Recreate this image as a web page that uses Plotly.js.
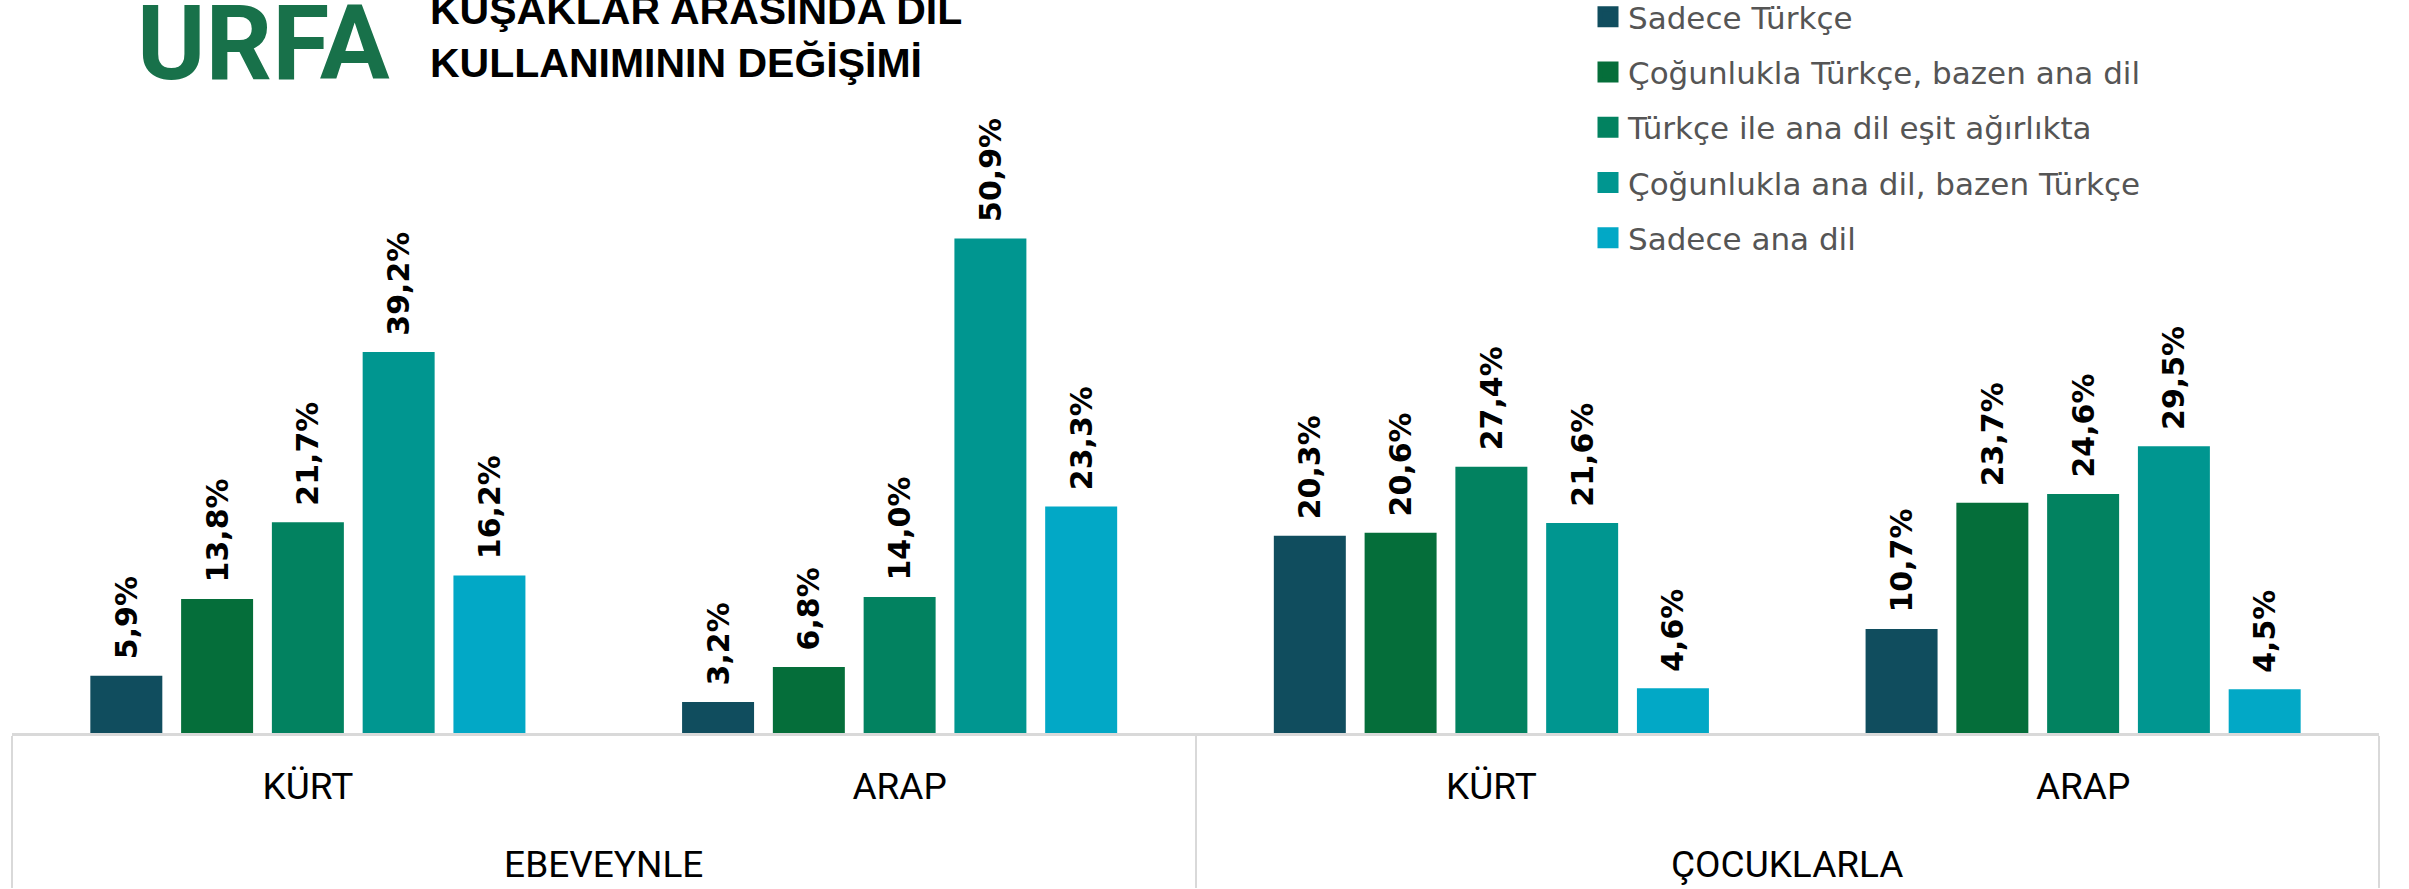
<!DOCTYPE html>
<html><head><meta charset="utf-8">
<script src="https://cdn.plot.ly/plotly-3.0.1.min.js"></script>
<style>html,body{margin:0;padding:0;background:#fff;overflow:hidden}#chart{width:2409px;height:889px;}</style>
</head><body><div id="chart"></div>
<script>
// ---- data ----
const groups = ["EBEVEYNLE", "EBEVEYNLE", "ÇOCUKLARLA", "ÇOCUKLARLA"];
const ethnicities = ["KÜRT", "ARAP", "KÜRT", "ARAP"];
const seriesNames = [
  "Sadece Türkçe",
  "Çoğunlukla Türkçe, bazen ana dil",
  "Türkçe ile ana dil eşit ağırlıkta",
  "Çoğunlukla ana dil, bazen Türkçe",
  "Sadece ana dil"
];
const sadeceTurkce = [5.9, 3.2, 20.3, 10.7];
const cogunluklaTurkce = [13.8, 6.8, 20.6, 23.7];
const esitAgirlikta = [21.7, 14.0, 27.4, 24.6];
const cogunluklaAnaDil = [39.2, 50.9, 21.6, 29.5];
const sadeceAnaDil = [16.2, 23.3, 4.6, 4.5];
const seriesValues = [sadeceTurkce, cogunluklaTurkce, esitAgirlikta, cogunluklaAnaDil, sadeceAnaDil];
const titleMain = "URFA";
const titleSub = "KUŞAKLAR ARASINDA DİL<br>KULLANIMININ DEĞİŞİMİ";

// ---- style ----
const colors = ["#104d5e", "#056e3a", "#028260", "#009690", "#02a8c6"];
const W = 2409, H = 889;
const M = {l: 12, r: 30, t: 150, b: 156, autoexpand: false};
const pw = W - M.l - M.r, ph = H - M.t - M.b;
const px = v => (v - M.l) / pw;
const py = v => (H - M.b - v) / ph;

// inner labels get an empty second line so the group row sits lower
const innerLabels = ethnicities.map(e => e + "<br><span style='font-size:52px'>\u00a0</span>");

const traces = [];
seriesValues.forEach((vals, i) => {
  traces.push({
    type: "bar",
    name: seriesNames[i],
    x: [groups, innerLabels],
    y: vals,
    marker: {color: colors[i]},
    texttemplate: "\u00a0\u200a%{y:.1f}%",
    textposition: "outside",
    textangle: -90,
    constraintext: "none",
    cliponaxis: false,
    textfont: {family: "DejaVu Sans", size: 30, color: "#000", weight: "bold"},
    showlegend: false,
    hoverinfo: "skip"
  });
});
seriesValues.forEach((vals, i) => {
  traces.push({
    type: "scatter",
    mode: "markers",
    name: seriesNames[i],
    legendgroup: "g" + i,
    x: [[groups[0]], [innerLabels[0]]],
    y: [null],
    marker: {symbol: "square", size: 16, color: colors[i], line: {color: colors[i], width: 5}},
    showlegend: true,
    hoverinfo: "skip"
  });
});

const layout = {
  width: W, height: H,
  margin: M,
  paper_bgcolor: "#fff", plot_bgcolor: "#fff",
  separators: ",.",
  barmode: "group",
  bargap: 0.233,
  bargroupgap: 0.207,
  showlegend: true,
  legend: {
    xref: "paper", yref: "paper",
    x: px(1588), y: py(-10), xanchor: "left", yanchor: "top",
    font: {family: "DejaVu Sans", size: 31, color: "#555"},
    tracegroupgap: 12,
    bgcolor: "rgba(0,0,0,0)",
    traceorder: "grouped"
  },
  xaxis: {
    type: "multicategory",
    showline: true, linecolor: "#d9d9d9", linewidth: 3,
    showdividers: true, dividercolor: "#d9d9d9", dividerwidth: 2,
    ticks: "", ticklabelstandoff: 19,
    tickfont: {family: "Roboto", size: 37, color: "#000"},
    showgrid: false, zeroline: false, fixedrange: true
  },
  yaxis: {range: [0, 60], visible: false, fixedrange: true},
  annotations: [
    {text: titleMain, xref: "paper", yref: "paper", x: px(135), y: py(83), xanchor: "left", yanchor: "bottom",
     yshift: -23, showarrow: false,
     font: {family: "Roboto", size: 104, color: "#18714a", weight: "bold"}},
    {text: titleSub, xref: "paper", yref: "paper", x: px(428), y: py(77), xanchor: "left", yanchor: "bottom",
     yshift: -11, showarrow: false, align: "left",
     font: {family: "Liberation Sans", size: 41, color: "#000", weight: "bold"}}
  ]
};
Plotly.newPlot("chart", traces, layout, {displayModeBar: false, staticPlot: true});
</script>
</body></html>
